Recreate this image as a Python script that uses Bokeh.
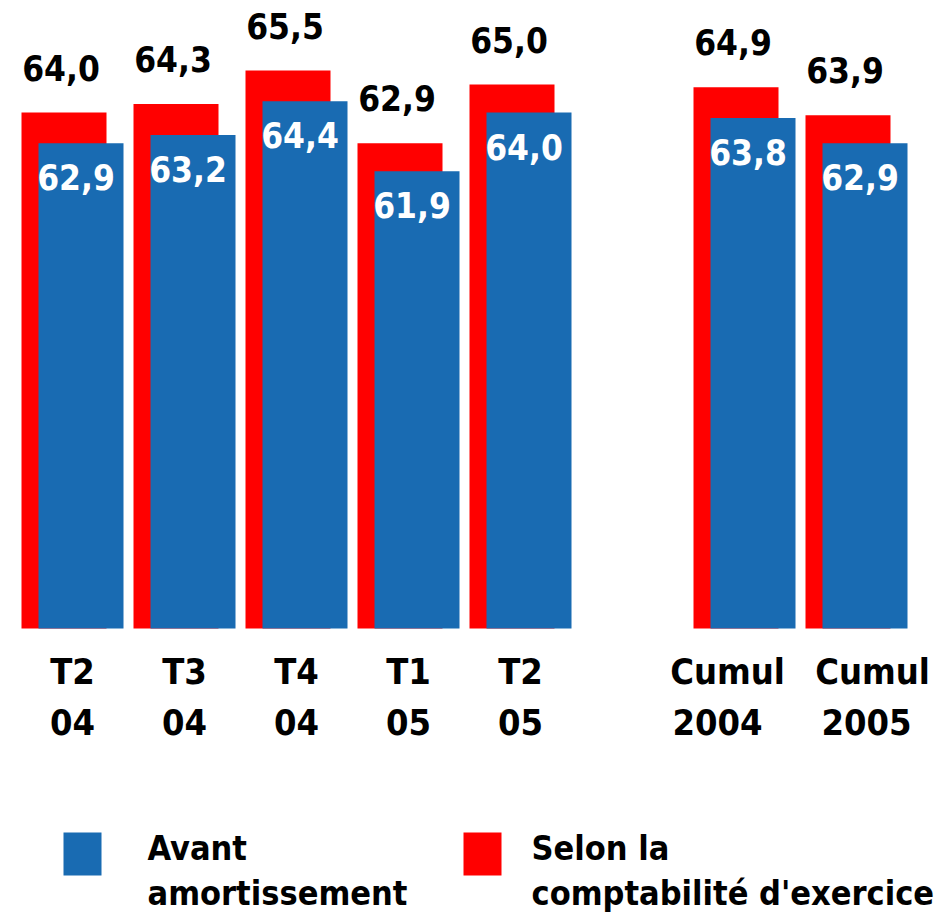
from bokeh.plotting import figure
from bokeh.models import Range1d, ColumnDataSource
from bokeh.core.properties import value
from bokeh.embed import file_html
from bokeh.resources import INLINE

# --- data -------------------------------------------------------------
line1 = ["T2", "T3", "T4", "T1", "T2", "Cumul", "Cumul"]
line2 = ["04", "04", "04", "05", "05", "2004", "2005"]
slots = [0, 1, 2, 3, 4, 6, 7]          # slot 5 left empty as a separator
avant = [62.9, 63.2, 64.4, 61.9, 64.0, 63.8, 62.9]          # blue series
exercice = [64.0, 64.3, 65.5, 62.9, 65.0, 64.9, 63.9]       # red series

def fmt(v):
    return f"{v:.1f}".replace(".", ",")

# --- layout -----------------------------------------------------------
W, H = 946, 913
PITCH = 112.0          # pixels per slot
X0 = 21.0              # pixel of slot 0 left edge
PX_PER_UNIT = 28.0
Y_TOP = 68.0           # value at the top edge of the canvas
BASE = Y_TOP - 628 / PX_PER_UNIT   # value at which bars start
TXT = -15              # baseline correction for text glyphs (px)

# horizontal nudges of the two category label lines, so the wide
# "Cumul" labels do not run into each other
nudge1 = [0, 0, 0, 0, 0, -17, 16]
nudge2 = [0, 0, 0, 0, 0, -27, 10]

BLUE = "#196BB2"
RED = "#FF0000"
FONT = value("DejaVu Sans Condensed")

def dx(px):            # pixel x -> data x
    return (px - X0) / PITCH

def dy(py):            # pixel y (from top) -> data y
    return Y_TOP - py / PX_PER_UNIT

p = figure(width=W, height=H, output_backend="svg", toolbar_location=None,
           x_range=Range1d(dx(0), dx(W)), y_range=Range1d(dy(H), dy(0)),
           min_border=0, outline_line_color=None)
p.axis.visible = False
p.grid.visible = False
p.background_fill_color = "white"
p.border_fill_color = "white"

red_w = 85 / PITCH
blue_w = 85 / PITCH
red_x = [s + red_w / 2 for s in slots]
blue_x = [s + 17 / PITCH + blue_w / 2 for s in slots]
group_x = [s + 51 / PITCH for s in slots]

src = ColumnDataSource(dict(
    red_x=red_x, blue_x=blue_x, group_x=group_x,
    avant=avant, exercice=exercice,
    avant_txt=[fmt(v) for v in avant],
    exercice_txt=[fmt(v) for v in exercice],
    line1=line1, line2=line2, nudge1=nudge1, nudge2=nudge2,
))

p.vbar(x="red_x", width=red_w, bottom=BASE, top="exercice", source=src,
       fill_color=RED, line_color=None)
p.vbar(x="blue_x", width=blue_w, bottom=BASE, top="avant", source=src,
       fill_color=BLUE, line_color=None)

# value labels
p.text(x="red_x", y="exercice", text="exercice_txt", source=src,
       text_font=FONT, text_font_style="bold", text_font_size="35px",
       text_color="black", text_align="center", text_baseline="alphabetic",
       x_offset=-3, y_offset=-30 + TXT)
p.text(x="blue_x", y="avant", text="avant_txt", source=src,
       text_font=FONT, text_font_style="bold", text_font_size="35px",
       text_color="white", text_align="center", text_baseline="alphabetic",
       x_offset=-5, y_offset=49 + TXT)

# category labels (two lines)
for col, nud, off in (("line1", "nudge1", 58), ("line2", "nudge2", 108)):
    p.text(x="group_x", y=BASE, text=col, source=src,
           text_font=FONT, text_font_style="bold", text_font_size="36px",
           text_color="black", text_align="center", text_baseline="alphabetic",
           x_offset=nud, y_offset=off + TXT)

# legend
legend_items = [
    (63, 147, BLUE, ["Avant", "amortissement"]),
    (463, 531, RED, ["Selon la", "comptabilité d'exercice"]),
]
for left, text_left, color, labels in legend_items:
    p.quad(left=dx(left), right=dx(left + 38), top=dy(832), bottom=dy(875),
           fill_color=color, line_color=None)
    for k, lab in enumerate(labels):
        p.text(x=[dx(text_left)], y=[dy(862 + 45 * k)], text=[lab],
               text_font=FONT, text_font_style="bold", text_font_size="34px",
               text_color="black", text_align="left",
               text_baseline="alphabetic", y_offset=TXT)

open("out.html", "w").write(file_html(p, INLINE))
